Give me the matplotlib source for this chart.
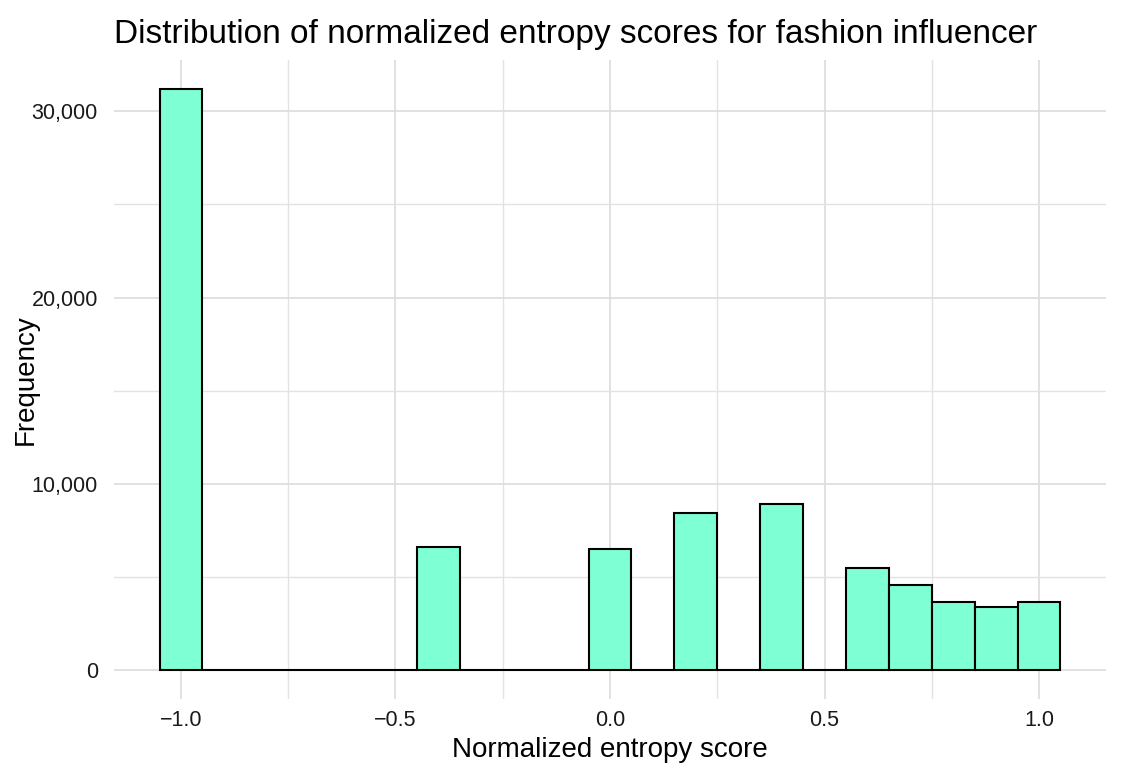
import matplotlib
matplotlib.use("Agg")
import matplotlib.pyplot as plt
from matplotlib.ticker import FuncFormatter, MultipleLocator

plt.rcParams['font.family'] = ['Liberation Sans', 'DejaVu Sans']

bin_centers = [-1.0, -0.9, -0.8, -0.7, -0.6, -0.5, -0.4, -0.3, -0.2, -0.1,
               0.0, 0.1, 0.2, 0.3, 0.4, 0.5, 0.6, 0.7, 0.8, 0.9, 1.0]
counts = [31200, 0, 0, 0, 0, 0, 6600, 0, 0, 0,
          6500, 0, 8450, 0, 8900, 0, 5450, 4550, 3650, 3380, 3650]
bin_width = 0.1
x_ticks = [-1.0, -0.5, 0.0, 0.5, 1.0]
x_tick_labels = ["\u22121.0", "\u22120.5", "0.0", "0.5", "1.0"]
y_ticks = [0, 10000, 20000, 30000]

fig = plt.figure(figsize=(11.29, 7.84), dpi=100)
ax = fig.add_axes([0.1014, 0.1084, 0.8778, 0.8151])

ax.bar(bin_centers, counts, width=bin_width, color="#7FFFD4",
       edgecolor="black", linewidth=1.5, zorder=3)

lo = bin_centers[0] - bin_width / 2
hi = bin_centers[-1] + bin_width / 2
pad = (hi - lo) * 0.05
ax.set_xlim(lo - pad, hi + pad)
ymax = max(counts)
ax.set_ylim(-ymax * 0.05, ymax * 1.05)

ax.set_xticks(x_ticks)
ax.set_xticklabels(x_tick_labels)
ax.xaxis.set_minor_locator(MultipleLocator(0.25))
ax.set_yticks(y_ticks)
ax.yaxis.set_minor_locator(MultipleLocator(5000))
ax.yaxis.set_major_formatter(FuncFormatter(lambda v, p: f"{int(v):,}"))

ax.grid(True, which="major", color="#DCDCDC", linewidth=1.2, zorder=0)
ax.grid(True, which="minor", color="#E3E3E3", linewidth=1.0, zorder=0)
ax.set_axisbelow(True)
for s in ax.spines.values():
    s.set_visible(False)
ax.tick_params(which="both", length=0)
ax.tick_params(axis="x", labelsize=15.5, pad=8, colors="#1a1a1a")
ax.tick_params(axis="y", labelsize=15.5, pad=12, colors="#1a1a1a")

ax.set_xlabel("Normalized entropy score", fontsize=20, labelpad=4)
ax.set_ylabel("Frequency", fontsize=20, labelpad=-5)
ax.set_title("Distribution of normalized entropy scores for fashion influencer",
             fontsize=24, loc="left", pad=12)

fig.savefig("out.png", dpi=100, facecolor="white")
